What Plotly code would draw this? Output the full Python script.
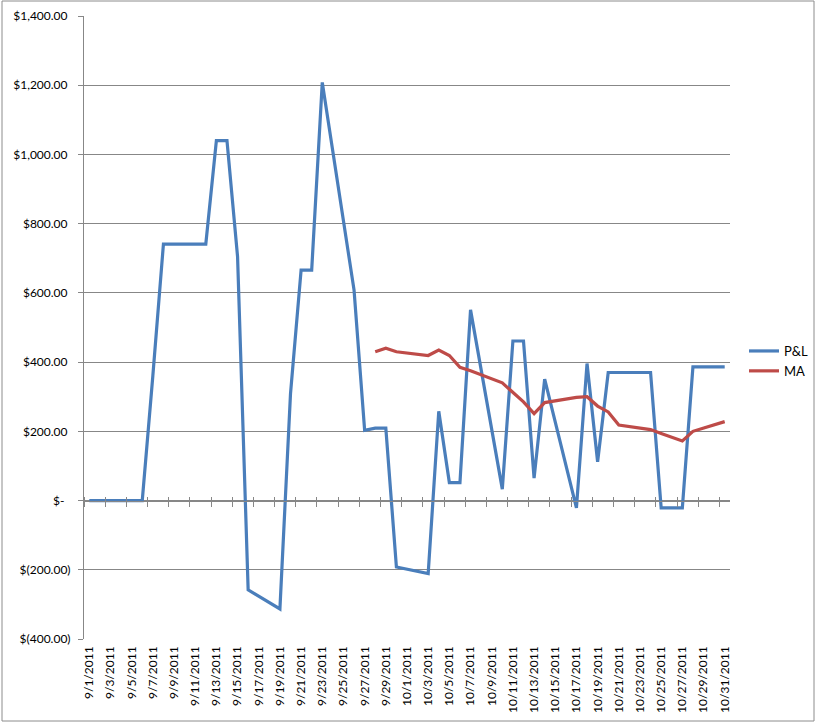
import plotly.graph_objects as go

# ---- data ----
pl_dates = [
    "2011-09-01", "2011-09-02", "2011-09-06", "2011-09-07", "2011-09-08", "2011-09-09",
    "2011-09-12", "2011-09-13", "2011-09-14", "2011-09-15", "2011-09-16", "2011-09-19",
    "2011-09-20", "2011-09-21", "2011-09-22", "2011-09-23", "2011-09-26", "2011-09-27",
    "2011-09-28", "2011-09-29", "2011-09-30",
    "2011-10-03", "2011-10-04", "2011-10-05", "2011-10-06", "2011-10-07", "2011-10-10",
    "2011-10-11", "2011-10-12", "2011-10-13", "2011-10-14", "2011-10-17", "2011-10-18",
    "2011-10-19", "2011-10-20", "2011-10-21", "2011-10-24", "2011-10-25", "2011-10-26",
    "2011-10-27", "2011-10-28", "2011-10-31",
]
pl_values = [
    0, 0, 0, 360, 741, 741,
    741, 1040, 1040, 705, -258, -313,
    309, 666, 666, 1208, 608, 203,
    209, 209, -192,
    -211, 258, 52, 52, 551, 33,
    461, 461, 65, 351, -21, 396,
    112, 370, 370, 370, -21, -21,
    -21, 386, 386,
]

ma_dates = [
    "2011-09-28", "2011-09-29", "2011-09-30",
    "2011-10-03", "2011-10-04", "2011-10-05", "2011-10-06", "2011-10-07", "2011-10-10",
    "2011-10-11", "2011-10-12", "2011-10-13", "2011-10-14", "2011-10-17", "2011-10-18",
    "2011-10-19", "2011-10-20", "2011-10-21", "2011-10-24", "2011-10-25", "2011-10-26",
    "2011-10-27", "2011-10-28", "2011-10-31",
]
ma_values = [
    430, 440, 430,
    419, 435, 419, 385, 375, 340,
    314, 285, 251, 283, 298, 300,
    273, 256, 218, 205, 194, 182,
    172, 200, 228,
]

x_tick_dates = [
    "2011-09-01", "2011-09-03", "2011-09-05", "2011-09-07", "2011-09-09", "2011-09-11",
    "2011-09-13", "2011-09-15", "2011-09-17", "2011-09-19", "2011-09-21", "2011-09-23",
    "2011-09-25", "2011-09-27", "2011-09-29", "2011-10-01", "2011-10-03", "2011-10-05",
    "2011-10-07", "2011-10-09", "2011-10-11", "2011-10-13", "2011-10-15", "2011-10-17",
    "2011-10-19", "2011-10-21", "2011-10-23", "2011-10-25", "2011-10-27", "2011-10-29",
    "2011-10-31",
]
x_tick_labels = [
    "9/1/2011", "9/3/2011", "9/5/2011", "9/7/2011", "9/9/2011", "9/11/2011",
    "9/13/2011", "9/15/2011", "9/17/2011", "9/19/2011", "9/21/2011", "9/23/2011",
    "9/25/2011", "9/27/2011", "9/29/2011", "10/1/2011", "10/3/2011", "10/5/2011",
    "10/7/2011", "10/9/2011", "10/11/2011", "10/13/2011", "10/15/2011", "10/17/2011",
    "10/19/2011", "10/21/2011", "10/23/2011", "10/25/2011", "10/27/2011", "10/29/2011",
    "10/31/2011",
]

y_tick_values = [-400, -200, 0, 200, 400, 600, 800, 1000, 1200, 1400]
y_tick_labels = [
    "$(400.00)", "$(200.00)", "$-\u00a0\u00a0", "$200.00\u00a0", "$400.00\u00a0", "$600.00\u00a0",
    "$800.00\u00a0", "$1,000.00\u00a0", "$1,200.00\u00a0", "$1,400.00\u00a0",
]

# ---- styling ----
FONT = "Lato"
GRID = "#878787"
BLUE = "#4A7EBB"
RED = "#BE4B48"
W, H = 815, 722
L, R, T, B = 84, 85, 16, 83
PW, PH = W - L - R, H - T - B
x_range = ["2011-08-31 12:00", "2011-10-31 12:00"]
y_range = [-400, 1400]
zero_pos = (0 - y_range[0]) / (y_range[1] - y_range[0])

fig = go.Figure()
fig.add_trace(go.Scatter(x=pl_dates, y=pl_values, name="P&L", mode="lines",
                         line=dict(color=BLUE, width=3.2)))
fig.add_trace(go.Scatter(x=ma_dates, y=ma_values, name="MA", mode="lines",
                         line=dict(color=RED, width=3.2)))
# invisible carriers so the crossing tick axes are drawn
for ax in ("x2", "x3"):
    fig.add_trace(go.Scatter(x=pl_dates, y=pl_values, xaxis=ax, mode="lines",
                             line=dict(color="rgba(0,0,0,0)", width=0),
                             showlegend=False, hoverinfo="skip"))

fig.update_layout(
    width=W, height=H,
    margin=dict(l=L, r=R, t=T, b=B, pad=0, autoexpand=False),
    paper_bgcolor="white", plot_bgcolor="white",
    font=dict(family=FONT, size=12, color="#000000"),
    showlegend=True,
    legend=dict(x=(744 - L) / PW, y=(H - B - 361) / PH,
                xanchor="left", yanchor="middle",
                font=dict(family=FONT, size=13, color="#000000"),
                bgcolor="rgba(0,0,0,0)", tracegroupgap=6, itemwidth=30),
    xaxis=dict(type="date", range=x_range, tickmode="array",
               tickvals=x_tick_dates, ticktext=x_tick_labels, tickangle=-90,
               ticks="", showgrid=False, showline=False, zeroline=False,
               tickfont=dict(family=FONT, size=12, color="#000000"),
               ticklabelstandoff=4, automargin=False),
    xaxis2=dict(type="date", overlaying="x", matches="x", anchor="free",
                position=zero_pos, showticklabels=False, ticks="outside",
                ticklen=5, tickwidth=1, tickcolor=GRID, showline=True,
                linecolor=GRID, linewidth=1, showgrid=False, zeroline=False,
                tick0="2011-08-31 12:00", dtick=2 * 86400000, automargin=False),
    xaxis3=dict(type="date", overlaying="x", matches="x", anchor="free",
                position=zero_pos, side="top", showticklabels=False,
                ticks="outside", ticklen=4, tickwidth=1, tickcolor=GRID,
                showline=False, showgrid=False, zeroline=False,
                tick0="2011-08-31 12:00", dtick=2 * 86400000, automargin=False),
    yaxis=dict(range=y_range, tickmode="array", tickvals=y_tick_values,
               ticktext=y_tick_labels, showgrid=True, gridcolor=GRID,
               gridwidth=1, zeroline=False, showline=True, linecolor=GRID,
               linewidth=1, ticks="outside", ticklen=5, tickcolor=GRID,
               tickfont=dict(family=FONT, size=12, color="#000000"),
               ticklabelstandoff=5, automargin=False),
    shapes=[dict(type="rect", xref="paper", yref="paper",
                 x0=(2 - L) / PW, x1=(814 - L) / PW,
                 y0=(H - B - 721) / PH, y1=(H - B - 1) / PH,
                 line=dict(color="#8C8C8C", width=1), fillcolor="rgba(0,0,0,0)",
                 layer="below")],
)

fig.write_html("out.html", config={"displayModeBar": False},
               post_script="document.body.style.margin='0';document.body.style.overflow='hidden';")
